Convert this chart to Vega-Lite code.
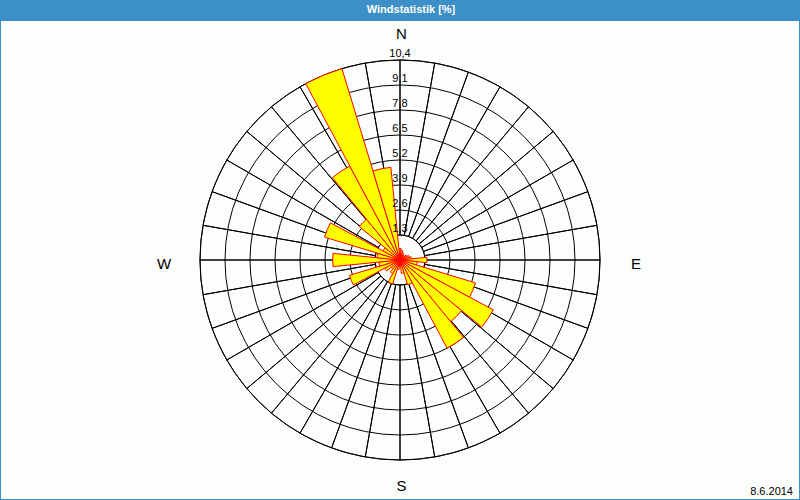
{
  "$schema": "https://vega.github.io/schema/vega-lite/v6.json",
  "width": 800,
  "height": 480,
  "autosize": {"type": "none"},
  "padding": {"top": 20, "left": 0, "right": 0, "bottom": 0},
  "background": "#3c8fc7",
  "config": {"view": {"fill": "#fbfefb", "stroke": "#3c8fc7", "strokeWidth": 2}},
  "title": {"text": "Windstatistik [%]", "color": "#ffffff", "fontSize": 11, "fontWeight": "bold", "font": "Liberation Sans", "anchor": "middle", "frame": "group", "offset": 5, "dx": 11},
  "datasets": {
    "grid": [
      {"a0": 0, "a1": 10}, {"a0": 10, "a1": 20}, {"a0": 20, "a1": 30}, {"a0": 30, "a1": 40},
      {"a0": 40, "a1": 50}, {"a0": 50, "a1": 60}, {"a0": 60, "a1": 70}, {"a0": 70, "a1": 80},
      {"a0": 80, "a1": 90}, {"a0": 90, "a1": 100}, {"a0": 100, "a1": 110}, {"a0": 110, "a1": 120},
      {"a0": 120, "a1": 130}, {"a0": 130, "a1": 140}, {"a0": 140, "a1": 150}, {"a0": 150, "a1": 160},
      {"a0": 160, "a1": 170}, {"a0": 170, "a1": 180}, {"a0": 180, "a1": 190}, {"a0": 190, "a1": 200},
      {"a0": 200, "a1": 210}, {"a0": 210, "a1": 220}, {"a0": 220, "a1": 230}, {"a0": 230, "a1": 240},
      {"a0": 240, "a1": 250}, {"a0": 250, "a1": 260}, {"a0": 260, "a1": 270}, {"a0": 270, "a1": 280},
      {"a0": 280, "a1": 290}, {"a0": 290, "a1": 300}, {"a0": 300, "a1": 310}, {"a0": 310, "a1": 320},
      {"a0": 320, "a1": 330}, {"a0": 330, "a1": 340}, {"a0": 340, "a1": 350}, {"a0": 350, "a1": 360}
    ],
    "rings": [
      {"r": 1.3, "label": "1,3"}, {"r": 2.6, "label": "2,6"}, {"r": 3.9, "label": "3,9"},
      {"r": 5.2, "label": "5,2"}, {"r": 6.5, "label": "6,5"}, {"r": 7.8, "label": "7,8"},
      {"r": 9.1, "label": "9,1"}, {"r": 10.4, "label": "10,4"}
    ],
    "wind": [
      {"dir": 0, "from": -5.625, "to": 5.625, "pct": 0.6},
      {"dir": 11.25, "from": 5.625, "to": 16.875, "pct": 0.5},
      {"dir": 22.5, "from": 16.875, "to": 28.125, "pct": 0.4},
      {"dir": 33.75, "from": 28.125, "to": 39.375, "pct": 0.3},
      {"dir": 45, "from": 39.375, "to": 50.625, "pct": 0.3},
      {"dir": 56.25, "from": 50.625, "to": 61.875, "pct": 0.4},
      {"dir": 67.5, "from": 61.875, "to": 73.125, "pct": 0.5},
      {"dir": 78.75, "from": 73.125, "to": 84.375, "pct": 0.6},
      {"dir": 90, "from": 84.375, "to": 95.625, "pct": 1.4},
      {"dir": 101.25, "from": 95.625, "to": 106.875, "pct": 0.9},
      {"dir": 112.5, "from": 106.875, "to": 118.125, "pct": 4.1},
      {"dir": 123.75, "from": 118.125, "to": 129.375, "pct": 5.5},
      {"dir": 135, "from": 129.375, "to": 140.625, "pct": 4.15},
      {"dir": 146.25, "from": 140.625, "to": 151.875, "pct": 5.2},
      {"dir": 157.5, "from": 151.875, "to": 163.125, "pct": 1.35},
      {"dir": 168.75, "from": 163.125, "to": 174.375, "pct": 0.7},
      {"dir": 180, "from": 174.375, "to": 185.625, "pct": 0.3},
      {"dir": 191.25, "from": 185.625, "to": 196.875, "pct": 0.5},
      {"dir": 202.5, "from": 196.875, "to": 208.125, "pct": 1.3},
      {"dir": 213.75, "from": 208.125, "to": 219.375, "pct": 0.8},
      {"dir": 225, "from": 219.375, "to": 230.625, "pct": 0.6},
      {"dir": 236.25, "from": 230.625, "to": 241.875, "pct": 0.9},
      {"dir": 247.5, "from": 241.875, "to": 253.125, "pct": 2.75},
      {"dir": 258.75, "from": 253.125, "to": 264.375, "pct": 1.1},
      {"dir": 270, "from": 264.375, "to": 275.625, "pct": 3.5},
      {"dir": 281.25, "from": 275.625, "to": 286.875, "pct": 1.2},
      {"dir": 292.5, "from": 286.875, "to": 298.125, "pct": 4.1},
      {"dir": 303.75, "from": 298.125, "to": 309.375, "pct": 1.0},
      {"dir": 315, "from": 309.375, "to": 320.625, "pct": 2.74},
      {"dir": 326.25, "from": 320.625, "to": 331.875, "pct": 5.54},
      {"dir": 337.5, "from": 331.875, "to": 343.125, "pct": 10.4},
      {"dir": 348.75, "from": 343.125, "to": 354.375, "pct": 4.84}
    ],
    "compassNS": [{"deg": 0, "label": "N"}, {"deg": 180, "label": "S"}],
    "compassEW": [{"deg": 90, "label": "E"}, {"deg": 270, "label": "W"}],
    "footer": [{"date": "8.6.2014"}]
  },
  "layer": [
    {
      "data": {"name": "grid"},
      "mark": {"type": "arc", "fill": "transparent", "stroke": "#000000", "strokeWidth": 1},
      "encoding": {
        "theta": {"field": "a0", "type": "quantitative", "stack": null, "scale": {"domain": [0, 360], "range": [0, 6.283185307179586]}},
        "theta2": {"field": "a1"},
        "radius": {"datum": 10.4, "type": "quantitative", "stack": null, "scale": {"type": "linear", "domain": [0, 10.4], "range": [0, 200], "zero": true}},
        "radius2": {"datum": 1.3}
      }
    },
    {
      "data": {"name": "rings"},
      "mark": {"type": "arc", "fill": "transparent", "stroke": "#000000", "strokeWidth": 1},
      "encoding": {
        "theta": {"datum": 0, "type": "quantitative", "stack": null},
        "theta2": {"datum": 360},
        "radius": {"field": "r", "type": "quantitative", "stack": null}
      }
    },
    {
      "data": {"name": "wind"},
      "mark": {"type": "arc", "fill": "#ffff00", "stroke": "#ff0000", "strokeWidth": 1},
      "encoding": {
        "theta": {"field": "from", "type": "quantitative", "stack": null},
        "theta2": {"field": "to"},
        "radius": {"field": "pct", "type": "quantitative", "stack": null}
      }
    },
    {
      "data": {"name": "rings"},
      "mark": {"type": "text", "align": "center", "baseline": "bottom", "fontSize": 11, "font": "Liberation Sans", "color": "#000000", "dy": -1},
      "encoding": {
        "theta": {"datum": 0, "type": "quantitative", "stack": null},
        "radius": {"field": "r", "type": "quantitative", "stack": null},
        "text": {"field": "label"}
      }
    },
    {
      "data": {"name": "compassNS"},
      "mark": {"type": "text", "align": "center", "baseline": "middle", "fontSize": 15, "font": "Liberation Sans", "color": "#000000", "dx": 1.5},
      "encoding": {
        "theta": {"field": "deg", "type": "quantitative", "stack": null},
        "radius": {"datum": 11.75, "type": "quantitative", "stack": null},
        "text": {"field": "label"}
      }
    },
    {
      "data": {"name": "compassEW"},
      "mark": {"type": "text", "align": "center", "baseline": "middle", "fontSize": 15, "font": "Liberation Sans", "color": "#000000", "dy": 4},
      "encoding": {
        "theta": {"field": "deg", "type": "quantitative", "stack": null},
        "radius": {"datum": 12.27, "type": "quantitative", "stack": null},
        "text": {"field": "label"}
      }
    },
    {
      "data": {"name": "footer"},
      "mark": {"type": "text", "align": "right", "baseline": "bottom", "fontSize": 11, "font": "Liberation Sans", "color": "#000000", "dx": -7, "dy": -3},
      "encoding": {
        "x": {"value": "width"},
        "y": {"value": "height"},
        "text": {"field": "date"}
      }
    }
  ]
}
